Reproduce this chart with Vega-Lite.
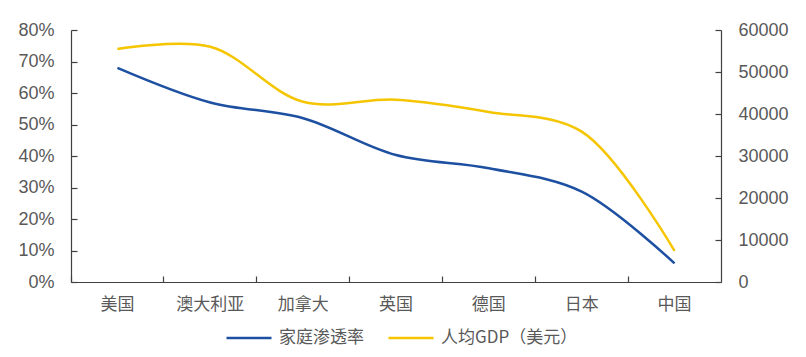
{
  "$schema": "https://vega.github.io/schema/vega-lite/v6.json",
  "width": 650,
  "height": 252,
  "autosize": {"type": "none"},
  "padding": {"left": 71, "top": 30, "right": 85, "bottom": 75},
  "background": "white",
  "config": {
    "view": {"stroke": null},
    "axis": {
      "grid": false,
      "domainColor": "#404040",
      "domainWidth": 1.2,
      "tickColor": "#404040",
      "tickWidth": 1.2,
      "labelColor": "#595959",
      "title": null
    }
  },
  "data": {
    "values": [
      {"country": "美国", "rate": 0.68, "gdp": 55500},
      {"country": "澳大利亚", "rate": 0.57, "gdp": 56000},
      {"country": "加拿大", "rate": 0.52, "gdp": 42900},
      {"country": "英国", "rate": 0.403, "gdp": 43400},
      {"country": "德国", "rate": 0.361, "gdp": 40500},
      {"country": "日本", "rate": 0.287, "gdp": 35800},
      {"country": "中国", "rate": 0.059, "gdp": 7400}
    ]
  },
  "encoding": {
    "x": {
      "field": "country",
      "type": "nominal",
      "sort": null,
      "scale": {"type": "band", "paddingInner": 0, "paddingOuter": 0},
      "axis": {
        "title": null,
        "labelAngle": 0,
        "bandPosition": 0,
        "tickSize": -6,
        "labelPadding": 20,
        "labelFont": "Noto Sans CJK SC",
        "labelFontSize": 17,
        "labelFontWeight": "normal"
      }
    }
  },
  "layer": [
    {
      "mark": {"type": "line", "interpolate": "catmull-rom", "strokeWidth": 2.5},
      "encoding": {
        "y": {
          "field": "rate",
          "type": "quantitative",
          "scale": {"domain": [0, 0.8], "nice": false},
          "axis": {
            "orient": "left",
            "format": ".0%",
            "values": [0, 0.1, 0.2, 0.3, 0.4, 0.5, 0.6, 0.7, 0.8],
            "tickSize": -6,
            "labelPadding": 23,
            "labelFont": "Liberation Sans",
            "labelFontSize": 18
          }
        },
        "color": {
          "datum": "家庭渗透率",
          "type": "nominal",
          "scale": {"domain": ["家庭渗透率", "人均GDP（美元）"], "range": ["#1E50A2", "#F5C500"]},
          "legend": {
            "title": null,
            "orient": "none",
            "direction": "horizontal",
            "legendX": 154,
            "legendY": 284,
            "symbolType": "stroke",
            "symbolSize": 2025,
            "symbolStrokeWidth": 2.5,
            "labelFont": "Noto Sans CJK SC",
            "labelFontSize": 17,
            "labelColor": "#595959",
            "labelOffset": 6,
            "columnPadding": 19
          }
        }
      }
    },
    {
      "mark": {"type": "line", "interpolate": "catmull-rom", "strokeWidth": 2.5},
      "encoding": {
        "y": {
          "field": "gdp",
          "type": "quantitative",
          "scale": {"domain": [0, 60000], "nice": false},
          "axis": {
            "orient": "right",
            "format": "d",
            "values": [0, 10000, 20000, 30000, 40000, 50000, 60000],
            "tickSize": -6,
            "labelPadding": 23,
            "labelFont": "Liberation Sans",
            "labelFontSize": 18
          }
        },
        "color": {"datum": "人均GDP（美元）", "type": "nominal"}
      }
    }
  ],
  "resolve": {"scale": {"y": "independent"}}
}
